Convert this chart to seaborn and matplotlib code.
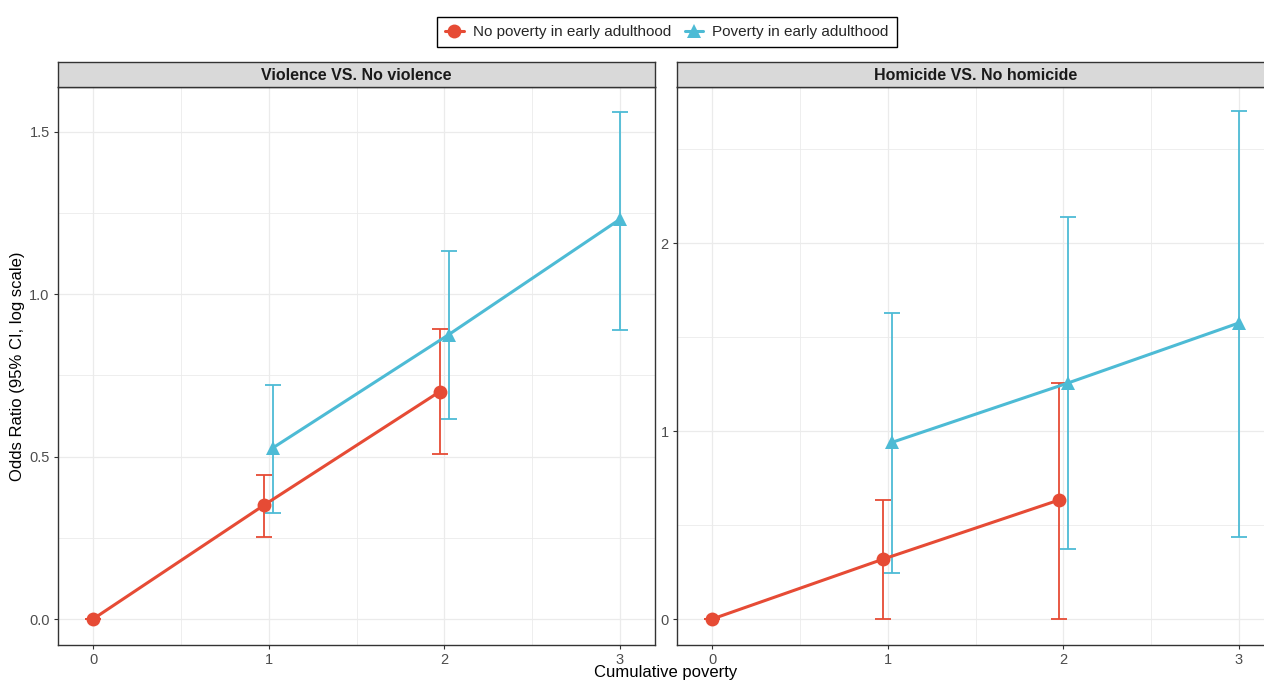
import matplotlib
matplotlib.use("Agg")
import matplotlib.pyplot as plt
from matplotlib.lines import Line2D
import seaborn as sns
import pandas as pd
import numpy as np

# ---- data (log odds ratios with 95% CI) ----
groups = ["No poverty in early adulthood", "Poverty in early adulthood"]
panels = ["Violence VS. No violence", "Homicide VS. No homicide"]

# Violence panel
viol_nopov_x = [0, 1, 2]
viol_nopov_or = [0.0, 0.351, 0.700]
viol_nopov_lo = [0.0, 0.252, 0.508]
viol_nopov_hi = [0.0, 0.443, 0.892]

viol_pov_x = [1, 2, 3]
viol_pov_or = [0.527, 0.875, 1.230]
viol_pov_lo = [0.326, 0.615, 0.889]
viol_pov_hi = [0.720, 1.132, 1.560]

# Homicide panel
hom_nopov_x = [0, 1, 2]
hom_nopov_or = [0.0, 0.319, 0.633]
hom_nopov_lo = [0.0, 0.0, 0.0]
hom_nopov_hi = [0.0, 0.633, 1.255]

hom_pov_x = [1, 2, 3]
hom_pov_or = [0.940, 1.255, 1.575]
hom_pov_lo = [0.245, 0.370, 0.436]
hom_pov_hi = [1.630, 2.140, 2.700]

colors = {groups[0]: "#E64B35", groups[1]: "#4DBBD5"}
markers = {groups[0]: "o", groups[1]: "^"}
dodge = {groups[0]: -0.025, groups[1]: 0.025}


def make_df(panel, nx, no, nl, nh, px, po, pl, ph):
    rows = []
    for g, xs, ys, ls, hs in [(groups[0], nx, no, nl, nh), (groups[1], px, po, pl, ph)]:
        for x, y, l, h in zip(xs, ys, ls, hs):
            rows.append({"panel": panel, "group": g, "x": x, "or": y, "lo": l, "hi": h})
    return pd.DataFrame(rows)


df = pd.concat([
    make_df(panels[0], viol_nopov_x, viol_nopov_or, viol_nopov_lo, viol_nopov_hi,
            viol_pov_x, viol_pov_or, viol_pov_lo, viol_pov_hi),
    make_df(panels[1], hom_nopov_x, hom_nopov_or, hom_nopov_lo, hom_nopov_hi,
            hom_pov_x, hom_pov_or, hom_pov_lo, hom_pov_hi),
], ignore_index=True)

# dodge: shift only where both groups share a position
counts = df.groupby(["panel", "x"])["group"].transform("count")
df["xd"] = df["x"] + np.where(counts > 1, df["group"].map(dodge), 0.0)

sns.set_theme(style="white")
plt.rcParams["font.family"] = ["Liberation Sans", "DejaVu Sans"]

W, H = 1264, 681
fig = plt.figure(figsize=(W / 100, H / 100), dpi=100)

panel_px = [(58, 655), (677, 1274)]
top_px, bot_px, strip_top = 87, 645, 62
ylims = [(-0.08, 1.637), (-0.138, 2.83)]
yticks = [([0, 0.5, 1.0, 1.5], ["0.0", "0.5", "1.0", "1.5"]),
          ([0, 1, 2], ["0", "1", "2"])]
yminor = [[0.25, 0.75, 1.25], [0.5, 1.5, 2.5]]

for i, panel in enumerate(panels):
    x0, x1 = panel_px[i]
    ax = fig.add_axes([x0 / W, (H - bot_px) / H, (x1 - x0) / W, (bot_px - top_px) / H])
    sub = df[df["panel"] == panel]

    # grid
    for v in yticks[i][0] + yminor[i]:
        ax.axhline(v, color="#EBEBEB", lw=0.9 if v in yticks[i][0] else 0.6, zorder=0)
    for v in [0, 1, 2, 3, 0.5, 1.5, 2.5]:
        ax.axvline(v, color="#EBEBEB", lw=0.9 if float(v).is_integer() else 0.6, zorder=0)

    for g in groups:
        d = sub[sub["group"] == g]
        ax.errorbar(d["xd"], d["or"], yerr=[d["or"] - d["lo"], d["hi"] - d["or"]],
                    fmt="none", ecolor=colors[g], elinewidth=1.3, capsize=5.5,
                    capthick=1.3, zorder=2)

    sns.lineplot(data=sub, x="xd", y="or", hue="group", style="group",
                 palette=colors, markers=markers, dashes=False, ax=ax,
                 linewidth=2.2, markersize=10, markeredgewidth=0,
                 legend=False, zorder=3, sort=True)

    ax.set_xlim(-0.2, 3.2)
    ax.set_ylim(*ylims[i])
    ax.set_xticks([0, 1, 2, 3])
    ax.set_xticklabels(["0", "1", "2", "3"])
    ax.set_yticks(yticks[i][0])
    ax.set_yticklabels(yticks[i][1])
    ax.set_xlabel("")
    ax.set_ylabel("")
    ax.tick_params(axis="both", which="major", length=3, width=0.8, color="#333333",
                   labelsize=10.5, labelcolor="#4D4D4D", pad=3, bottom=True, left=True)
    for s in ax.spines.values():
        s.set_color("#333333")
        s.set_linewidth(1.0)

    # facet strip
    sax = fig.add_axes([x0 / W, (H - top_px) / H, (x1 - x0) / W, (top_px - strip_top) / H])
    sax.set_facecolor("#D9D9D9")
    sax.set_xticks([])
    sax.set_yticks([])
    for s in sax.spines.values():
        s.set_color("#333333")
        s.set_linewidth(1.0)
    sax.text(0.5, 0.45, panel, ha="center", va="center", fontsize=11.5,
             fontweight="bold", color="#1A1A1A", transform=sax.transAxes)

fig.text(18 / W, (H - 366) / H, "Odds Ratio (95% CI, log scale)", rotation=90,
         ha="center", va="center", fontsize=12, color="black")
fig.text(666 / W, (H - 673) / H, "Cumulative poverty", ha="center", va="center",
         fontsize=12, color="black")

handles = [Line2D([0], [0], color=colors[g], marker=markers[g], lw=2.2,
                  markersize=10, markeredgewidth=0) for g in groups]
fig.legend(handles, groups, loc="center", bbox_to_anchor=(667 / W, (H - 32) / H),
           ncol=2, frameon=True, fancybox=False, edgecolor="black", fontsize=11,
           handlelength=1.2, handletextpad=0.6, columnspacing=0.9,
           borderpad=0.55, framealpha=1)

fig.savefig("out.png", dpi=100)
